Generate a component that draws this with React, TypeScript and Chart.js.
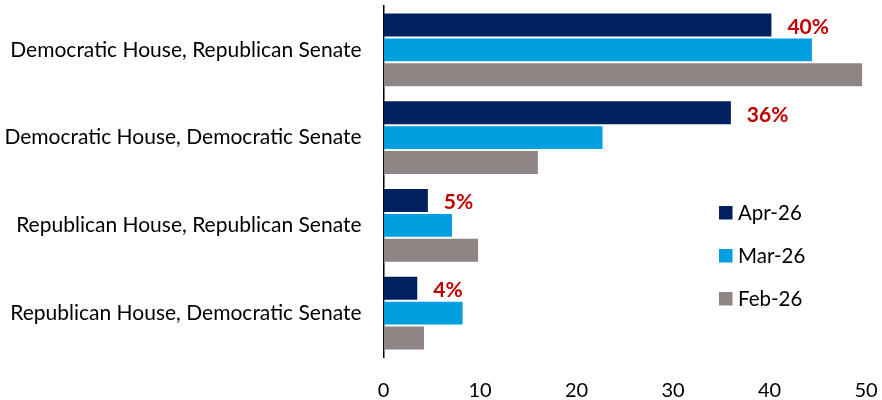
import React, { useEffect, useRef } from "react";
import { Chart, registerables } from "chart.js";

Chart.register(...registerables);

const categories = [
  "Democratic House, Republican Senate",
  "Democratic House, Democratic Senate",
  "Republican House, Republican Senate",
  "Republican House, Democratic Senate",
];
const seriesNames = ["Apr-26", "Mar-26", "Feb-26"];
const apr26 = [40.3, 36.1, 4.7, 3.6];
const mar26 = [44.5, 22.8, 7.2, 8.3];
const feb26 = [49.7, 16.1, 9.9, 4.3];
const aprLabels = ["40%", "36%", "5%", "4%"];
const xTicks = [0, 10, 20, 30, 40, 50];

const colors = ["#002060", "#009FDF", "#8F8584"];
const FONT = "Lato, 'Open Sans', sans-serif";

function zeroPadding(scale: any) {
  scale.paddingTop = 0;
  scale.paddingBottom = 0;
  scale.paddingLeft = 0;
  scale.paddingRight = 0;
}

export default function App() {
  const ref = useRef<HTMLCanvasElement | null>(null);

  useEffect(() => {
    document.body.style.margin = "0";
    const canvas = ref.current;
    if (!canvas) return;

    const labelPlugin = {
      id: "aprLabels",
      afterDatasetsDraw(chart: any) {
        const ctx = chart.ctx;
        const meta = chart.getDatasetMeta(0);
        ctx.save();
        ctx.font = `bold 21px ${FONT}`;
        ctx.fillStyle = "#C00000";
        ctx.textAlign = "left";
        ctx.textBaseline = "middle";
        meta.data.forEach((bar: any, i: number) => {
          ctx.fillText(aprLabels[i], bar.x + 15, bar.y + 2);
        });
        ctx.restore();
      },
    };

    const legendPlugin = {
      id: "insideLegend",
      afterDraw(chart: any) {
        const ctx = chart.ctx;
        const area = chart.chartArea;
        const x0 = area.left + 335.5;
        const y0 = 206;
        ctx.save();
        ctx.font = `20.5px ${FONT}`;
        ctx.textAlign = "left";
        ctx.textBaseline = "middle";
        chart.data.datasets.forEach((ds: any, i: number) => {
          const y = y0 + i * 43;
          ctx.fillStyle = ds.backgroundColor;
          ctx.fillRect(x0, y, 13.5, 13.5);
          ctx.fillStyle = "#000000";
          ctx.fillText(ds.label, x0 + 19, y + 7.5);
        });
        ctx.restore();
      },
    };

    const chart = new Chart(canvas, {
      type: "bar",
      data: {
        labels: categories,
        datasets: [apr26, mar26, feb26].map((d, i) => ({
          label: seriesNames[i],
          data: d,
          backgroundColor: colors[i],
          borderColor: "rgba(255,255,255,0.5)",
          borderWidth: 1,
          categoryPercentage: 0.85,
          barPercentage: 1,
        })),
      },
      options: {
        indexAxis: "y",
        animation: false,
        responsive: false,
        maintainAspectRatio: false,
        layout: { padding: { top: 6, right: 16, left: 0, bottom: 0 } },
        plugins: {
          legend: { display: false },
          tooltip: { enabled: false },
        },
        scales: {
          x: {
            min: 0,
            max: 50,
            afterBuildTicks(scale: any) {
              scale.ticks = xTicks.map((v) => ({ value: v }));
            },
            afterFit(scale: any) {
              scale.height = 43;
              zeroPadding(scale);
            },
            grid: { display: false, drawTicks: false },
            border: { display: false },
            ticks: {
              padding: 22,
              color: "#000000",
              font: { family: FONT, size: 20 },
              maxRotation: 0,
            },
          },
          y: {
            afterFit(scale: any) {
              scale.width = 383.5;
              zeroPadding(scale);
            },
            grid: { display: false, drawTicks: false },
            border: { display: true, color: "#000000", width: 1.5 },
            ticks: {
              padding: 22,
              color: "#000000",
              font: { family: FONT, size: 21 },
            },
          },
        },
      },
      plugins: [labelPlugin, legendPlugin],
    });

    return () => chart.destroy();
  }, []);

  return (
    <div style={{ width: 882, height: 400 }}>
      <canvas ref={ref} width={882} height={400} style={{ width: 882, height: 400 }} />
    </div>
  );
}
